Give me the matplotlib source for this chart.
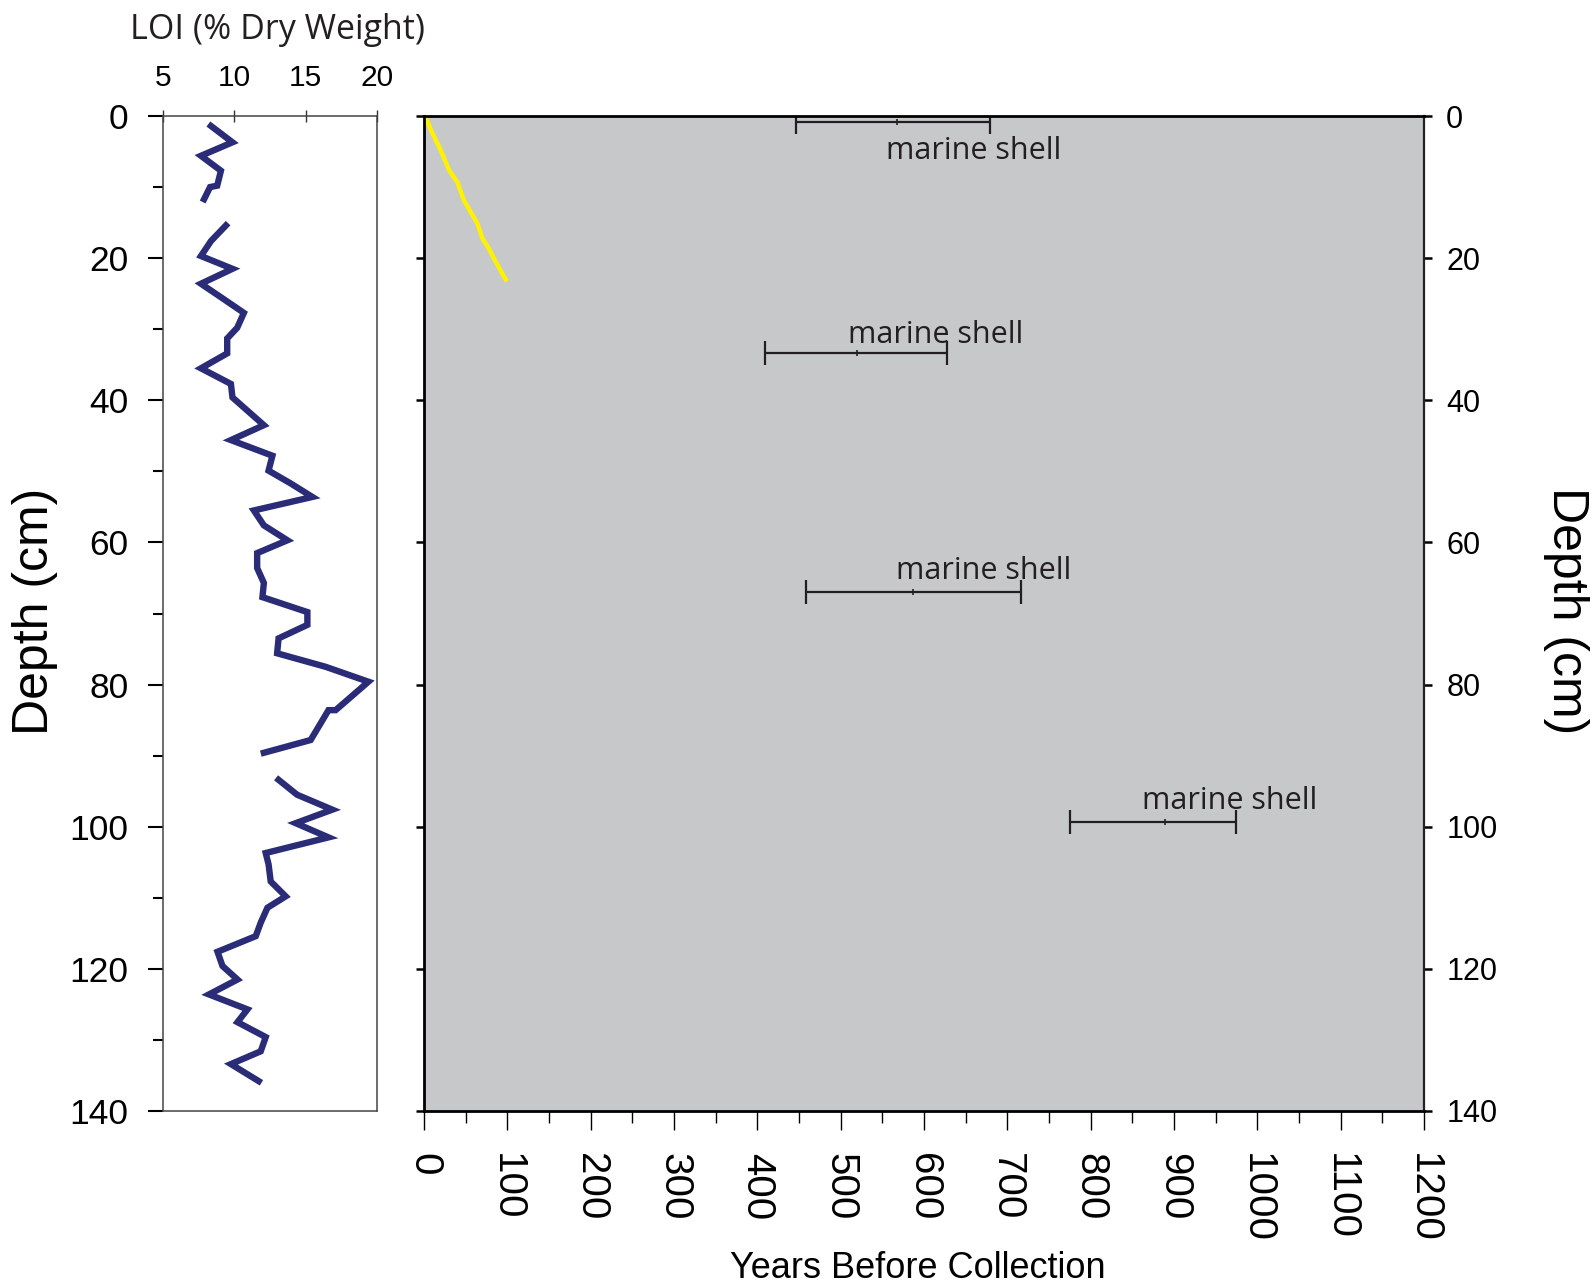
import numpy as np
import matplotlib
matplotlib.use("Agg")
import matplotlib.pyplot as plt

plt.rcParams['font.family'] = ['Liberation Sans', 'DejaVu Sans']

# ---------------- data ----------------
loi_depth = [1.4, 3.7, 5.6, 7.7, 9.8, 10.0, 11.7, np.nan,
             15.4, 17.6, 19.7, 21.5, 23.6, 25.5, 27.7, 29.8, 31.3, 33.4,
             35.5, 37.7, 39.6, 43.5, 45.6,
             47.8, 49.9, 51.7, 53.6, 55.5, 57.6, 59.7, 61.5, 63.6, 65.7, 67.7,
             69.8, 71.6, 73.5, 75.6, 77.5, 79.6,
             83.6, 83.6, 87.8, 89.6, np.nan,
             93.4, 95.5, 97.6, 99.5, 101.5, 103.7,
             105.3, 107.7, 109.8, 111.4, 113.5, 115.4,
             117.6, 119.6, 121.5, 123.6, 125.7, 127.5, 129.6, 131.6, 133.4, 135.8]
loi_value = [8.36, 9.87, 7.66, 9.06, 8.8, 8.3, 7.88, np.nan,
             9.41, 8.36, 7.66, 9.87, 7.66, 9.06, 10.67, 10.2, 9.5, 9.5,
             7.66, 9.76, 9.87, 12.07, 9.76,
             12.67, 12.4, 13.95, 15.47, 11.37, 12.07, 13.72, 11.6, 11.6, 12.07, 11.97,
             15.12, 15.12, 13.1, 13.0, 16.4, 19.4,
             17.1, 16.6, 15.35, 12.07, np.nan,
             13.1, 14.4, 16.87, 14.3, 16.6, 12.2,
             12.4, 12.55, 13.6, 12.32, 11.85, 11.5,
             8.82, 9.17, 10.22, 8.22, 10.92, 10.22, 12.2, 11.85, 9.76, 11.71]

age_years = [3, 10, 20, 30, 40, 48, 56, 64, 70, 78, 86, 98]
age_depth = [0.5, 2.4, 4.8, 7.6, 9.3, 11.9, 13.5, 15.1, 17.2, 18.7, 20.5, 23.0]

shell_depth = [0.9, 33.3, 67.0, 99.4]
shell_min = [446, 409, 458, 775]
shell_max = [679, 628, 716, 974]
shell_mid = [568, 519, 587, 889]
shell_label = ["marine shell", "marine shell", "marine shell", "marine shell"]
label_year = [660, 614, 672, 967]
label_depth = [6.0, 31.9, 65.1, 97.5]

loi_ticks = [5, 10, 15, 20]
depth_major = [0, 20, 40, 60, 80, 100, 120, 140]
depth_minor = [10, 30, 50, 70, 90, 110, 130]
year_major = list(range(0, 1201, 100))
year_minor = list(range(50, 1200, 100))

# ---------------- figure ----------------
W, H = 1596, 1287
fig = plt.figure(figsize=(W / 100, H / 100), dpi=100)

top_px, bot_px = 116, 1111
ax_b = 1 - bot_px / H
ax_h = (bot_px - top_px) / H

# Left LOI panel
ax1 = fig.add_axes([163 / W, ax_b, (377 - 163) / W, ax_h])
ax1.plot(loi_value, loi_depth, color='#2A2C78', lw=4.6, solid_joinstyle='miter')
ax1.set_xlim(5, 20)
ax1.set_ylim(140, 0)
ax1.xaxis.tick_top()
ax1.set_xticks(loi_ticks)
ax1.tick_params(axis='x', direction='inout', length=9, width=1.0, color='#333333',
                labelsize=21.5, pad=13)
ax1.set_yticks(depth_major)
ax1.set_yticks(depth_minor, minor=True)
ax1.tick_params(axis='y', which='major', direction='out', length=11, width=1.5,
                labelsize=25.5, pad=14)
ax1.tick_params(axis='y', which='minor', direction='out', length=7, width=1.5)
for s in ax1.spines.values():
    s.set_color('#444444')
    s.set_linewidth(1.1)
fig.text(277 / W, 1 - 30 / H, "LOI (% Dry Weight)", ha='center', va='center',
         fontsize=24.5, family=['Open Sans', 'DejaVu Sans'], color='#231F20')

# Main age panel
ax2 = fig.add_axes([424 / W, ax_b, (1424 - 424) / W, ax_h])
ax2.set_facecolor('#C7C8CA')
ax2.plot(age_years, age_depth, color='#FFF200', lw=3.2)
mid = np.array(shell_mid)
ax2.errorbar(mid, shell_depth,
             xerr=[mid - np.array(shell_min), np.array(shell_max) - mid],
             fmt='none', ecolor='#231F20', elinewidth=1.6, capsize=8.6, capthick=1.6)
ax2.plot(mid, shell_depth, ls='none', marker='|', ms=4, mew=1.2, color='#231F20')
for lx, ly, txt in zip(label_year, label_depth, shell_label):
    ax2.text(lx, ly, txt, ha='center', va='baseline', fontsize=22,
             family=['Open Sans', 'DejaVu Sans'], color='#231F20')
ax2.set_xlim(0, 1200)
ax2.set_ylim(140, 0)
ax2.set_xticks(year_major)
ax2.set_xticks(year_minor, minor=True)
ax2.tick_params(axis='x', which='major', direction='out', length=14, width=1.0,
                labelsize=29, pad=16, labelrotation=-90)
ax2.tick_params(axis='x', which='minor', direction='out', length=8.5, width=1.0)
ax2.set_yticks(depth_major)
ax2.tick_params(axis='y', which='major', direction='out', length=6, width=1.8,
                left=True, right=True, labelleft=False, labelright=True,
                labelsize=22, pad=10)
for name in ['left', 'top', 'bottom']:
    ax2.spines[name].set_color('black')
    ax2.spines[name].set_linewidth(2.0)
ax2.spines['right'].set_color('#222222')
ax2.spines['right'].set_linewidth(1.6)

fig.text(918 / W, 1 - 1269 / H, "Years Before Collection", ha='center', va='center',
         fontsize=26, family=['Liberation Sans Narrow', 'Liberation Sans', 'DejaVu Sans'])
fig.text(35 / W, 1 - 611 / H, "Depth (cm)", ha='center', va='center', rotation=90,
         fontsize=36)
fig.text(1566 / W, 1 - 611 / H, "Depth (cm)", ha='center', va='center', rotation=270,
         fontsize=36)

fig.savefig("out.png", dpi=100)
